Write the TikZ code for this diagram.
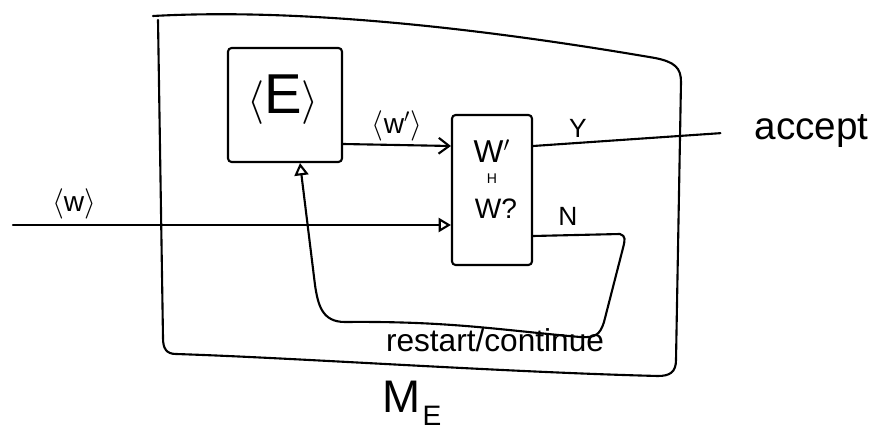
\documentclass[tikz,border=0pt]{standalone}
\usepackage{fontspec}
\setmainfont{Liberation Sans}
\usetikzlibrary{arrows.meta,positioning}

\begin{document}
\begin{tikzpicture}[x=0.02cm, y=-0.02cm, line width=1.2pt, line cap=round, line join=round,
  box/.style={draw, rounded corners=2pt, inner sep=0pt},
  barb/.style={-{Straight Barb[length=6pt,width=9pt]}},
  tri/.style={-{Triangle[open,length=7pt,width=8pt]}},
  lbl/.style={inner sep=1pt, font=\fontsize{16}{16}\selectfont}]
  \useasboundingbox (0,0) rectangle (879,432);
  % outer machine
  \draw (153,16) .. controls (300,8) and (480,28) .. (655,58)
        .. controls (675,62) and (681,68) .. (681,82) -- (676,360)
        .. controls (676,372) and (670,376) .. (658,376)
        .. controls (500,372) and (300,358) .. (176,354)
        .. controls (166,354) and (163,348) .. (163,338) -- (158,20);
  \node[lbl, font=\fontsize{26}{26}\selectfont] (mach) at (412,403)
    {M\kern1pt\raisebox{-0.55ex}{\fontsize{16}{16}\selectfont E}};
  % enumerator and comparator boxes
  \node[box, minimum width=2.28cm, minimum height=2.28cm] (enc) at (285,105) {};
  \node[lbl, font=\fontsize{32}{32}\selectfont] (etxt) at (283,100) {$\langle$E$\rangle$};
  \node[box, minimum width=1.6cm, minimum height=3cm] (cmp) at (492,190) {};
  \node[lbl, font=\fontsize{18}{18}\selectfont] (wp) at (492,151) {W$'$};
  \node[lbl, font=\fontsize{8}{8}\selectfont] (eq) at (492,179) {H};
  \node[lbl, font=\fontsize{16}{16}\selectfont] (wq) at (496,209) {W?};
  % labels
  \node[lbl] (lwp) at (397,126) {$\langle$w$'$$\rangle$};
  \node[lbl] (lw) at (74,204) {$\langle$w$\rangle$};
  \node[lbl, font=\fontsize{15}{15}\selectfont] (ly) at (578,128) {Y};
  \node[lbl, font=\fontsize{15}{15}\selectfont] (ln) at (568,216) {N};
  \node[lbl, font=\fontsize{22}{22}\selectfont, anchor=west] (acc) at (752,131) {accept};
  \node[lbl, font=\fontsize{18}{18}\selectfont] (rc) at (495,340) {restart/continue};
  % connectors
  \coordinate (win) at (13,225);
  \draw[barb] (enc.east |- 0,144) -- (cmp.west |- 0,146);
  \draw[tri] (win) -- (cmp.west |- win);
  \draw[shorten >=18pt] (cmp.east |- 0,146) -- (acc.west);
  \draw[tri] (cmp.east |- 0,236) -- (620,234) .. controls (626,236) and (625,240) .. (623,248)
        -- (604,322) .. controls (600,335) and (595,338) .. (580,337)
        .. controls (500,330) and (450,321) .. (345,322)
        .. controls (322,322) and (318,305) .. (315,285) -- (300,0 |- enc.south);
\end{tikzpicture}
\end{document}
